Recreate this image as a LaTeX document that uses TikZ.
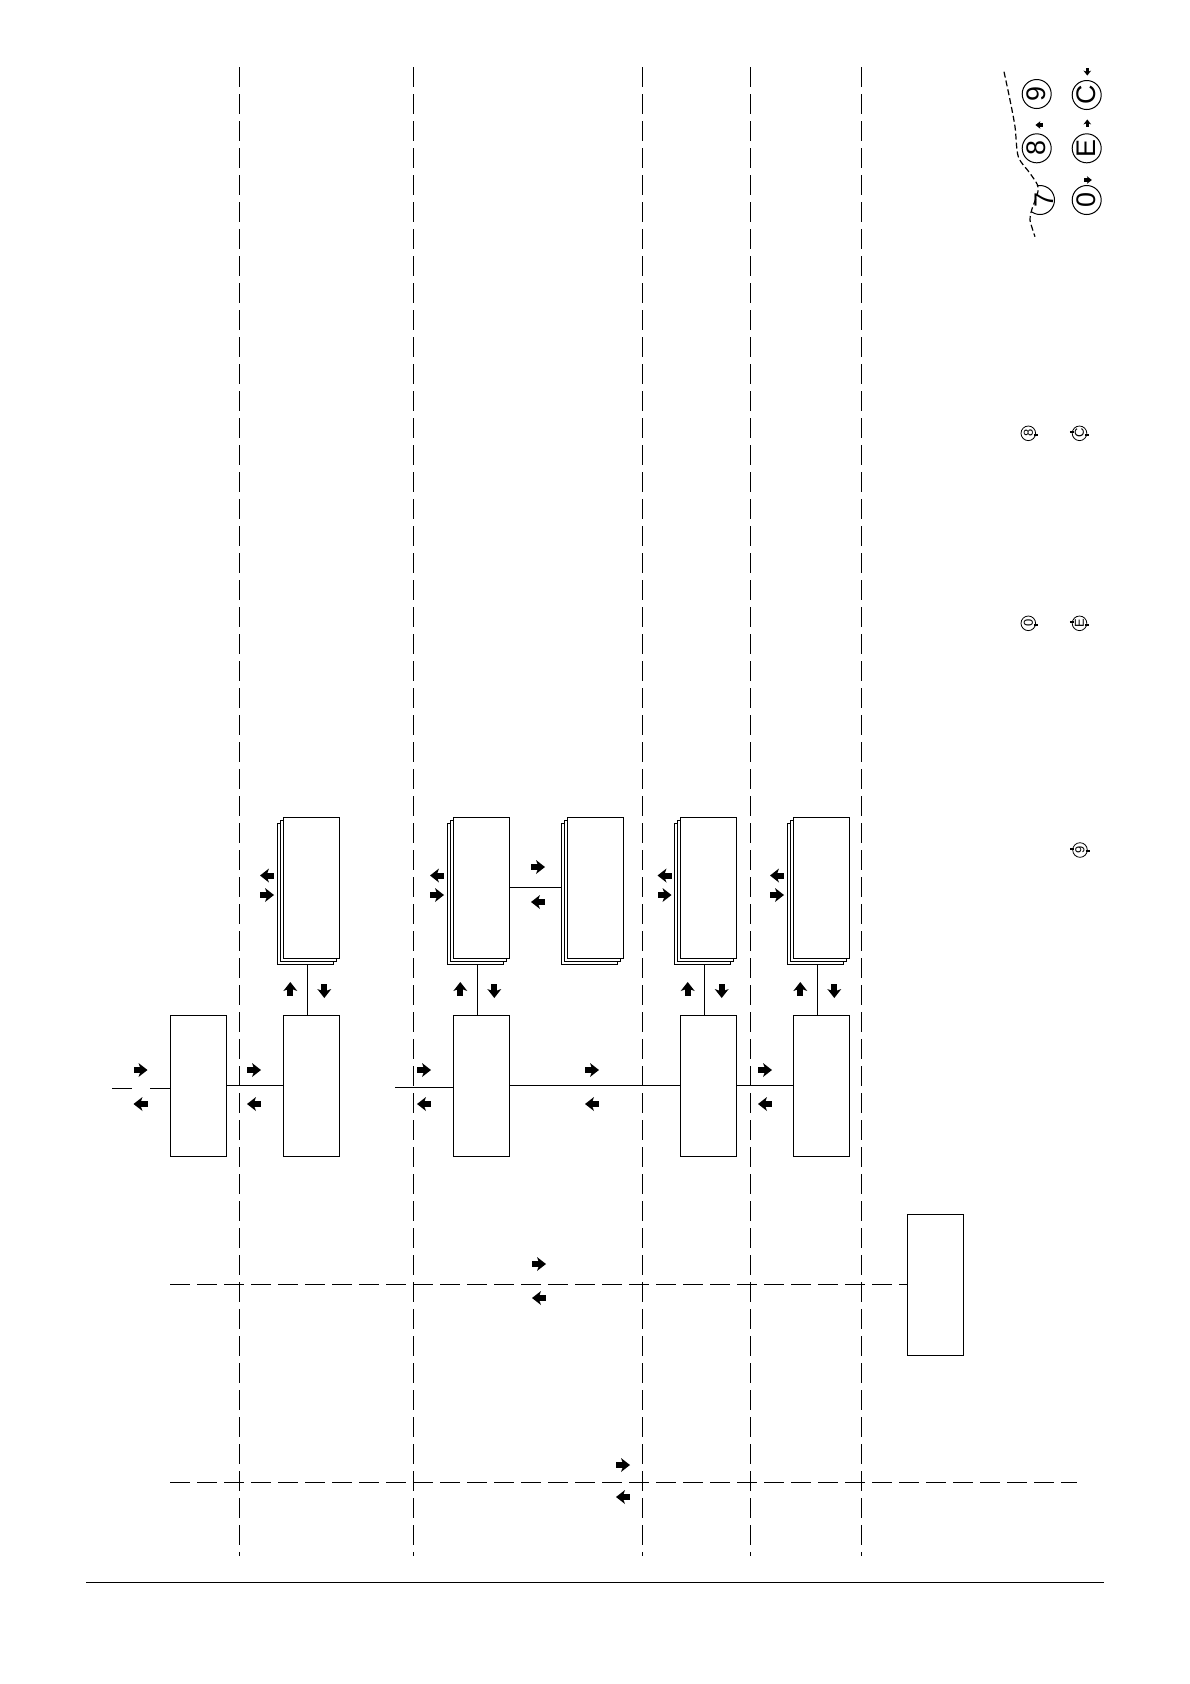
\documentclass[tikz,border=0pt]{standalone}
\usepackage{fontspec}
\setmainfont{Liberation Sans}
\usetikzlibrary{shadows,positioning,calc}

\begin{document}
\begin{tikzpicture}[x=0.5bp, y=-0.5bp,
  unit/.style={draw, line width=0.5bp, fill=white, minimum width=28bp, minimum height=70.5bp, inner sep=0pt, outer sep=0pt},
  stack/.style={unit,
    general shadow={shadow xshift=-3bp, shadow yshift=-3bp, draw, fill=white, line width=0.5bp},
    general shadow={shadow xshift=-1.5bp, shadow yshift=-1.5bp, draw, fill=white, line width=0.5bp}},
  link/.style={line width=0.5bp},
  bus/.style={line width=0.5bp, dash pattern=on 10bp off 3.5bp},
  key/.style={circle, draw, line width=0.5bp, minimum size=14.5bp, inner sep=0pt, rotate=90, font=\fontsize{13.5}{13.5}\selectfont},
  minikey/.style={circle, draw, line width=0.4bp, minimum size=7.3bp, inner sep=0pt, rotate=90, font=\fontsize{6.5}{6.5}\selectfont},
  tick/.style={line width=1bp},
  arw/.pic={
    \fill (-7,-3) rectangle (1,3);
    \fill (-2,-7) -- (7,0) -- (-2,7) -- (0.5,0) -- cycle;
  }
]
\useasboundingbox (0,0) rectangle (1190,1684);

% separators
\foreach \x in {239.3,413.5,642.3,750.5,861.5}
  \draw[bus] (\x,67) -- (\x,1556);
\draw[line width=0.5bp] (86,1582) -- (1104,1582);

% lower row
\node[unit] (boxa) at (198.3,1085.8) {};
\node[unit] (boxb) at (311.3,1085.8) {};
\node[unit] (boxc) at (481.3,1085.8) {};
\node[unit] (boxd) at (708.7,1085.8) {};
\node[unit] (boxe) at (821.3,1085.8) {};
\node[unit] (boxf) at (935.3,1284.8) {};

% upper row
\node[stack] (sta) at (311.3,887.8) {};
\node[stack] (stb) at (481.3,887.8) {};
\node[stack] (stc) at (595.0,887.8) {};
\node[stack] (std) at (708.7,887.8) {};
\node[stack] (ste) at (821.3,887.8) {};

\coordinate (ina) at (112,1088);
\coordinate (inc) at (395,1087);
\draw[link, dash pattern=on 10bp off 9bp] (ina) -- (ina -| boxa.west);
\draw[link] (boxa.east) -- (boxb.west);
\draw[link] (inc) -- (inc -| boxc.west);
\draw[link] (boxc.east) -- (boxd.west);
\draw[link] (boxd.east) -- (boxe.west);
\draw[link] (stb.east) -- ([xshift=-3bp]stc.west);
\foreach \s/\b in {sta/boxb,stb/boxc,std/boxd,ste/boxe}{
  \path (\s.south) ++(0,6) coordinate (\s-end);
  \draw[link] ([xshift=-2bp]\b.north) -- ([xshift=-2bp]\b.north |- \s-end);
}

\coordinate (busa) at (170,1284.3);
\coordinate (busb) at (170,1482.3);
\coordinate (busc) at (1077,1482.3);
\draw[bus] (busa) -- (busa -| boxf.west);
\draw[bus] (busb) -- (busc);

% flow arrows
\foreach \x in {140.5,254,424,592,765}{
  \pic at (\x,1070) {arw};
  \pic[rotate=180] at (\x,1104) {arw};
}
\foreach \x in {267,437,664.5,777}{
  \pic[rotate=180] at (\x,875.5) {arw};
  \pic at (\x,895) {arw};
}
\pic at (538,867) {arw};
\pic[rotate=180] at (538,902) {arw};
\foreach \x in {311.3,481.3,708.7,821.3}{
  \pic[rotate=90] at (\x-21,989) {arw};
  \pic[rotate=-90] at (\x+13,991) {arw};
}
\pic at (539,1264) {arw};
\pic[rotate=180] at (539,1298) {arw};
\pic at (623,1465) {arw};
\pic[rotate=180] at (623,1497) {arw};

% keypad
\node[key] (k9) at (1036.7,94) {9};
\node[key] (k8) at (1036.7,148.3) {8};
\node[key] (kc) at (1086.7,95) {C};
\node[key] (ke) at (1086.7,148.3) {E};
\node[key] (k0) at (1086.7,200) {0};
\begin{scope}
  \clip (1004,60) -- (1004,71.7) -- (1010,100) -- (1015,126.7) -- (1018.3,156.7) -- (1030,173.3)
    -- (1038.3,188.3) -- (1031.7,210) -- (1030,220) -- (1035,236.7) -- (1035,260) -- (1070,260) -- (1070,60) -- cycle;
  \node[key] (k7) at (1040,200) {};
\end{scope}
\node[rotate=90, inner sep=0pt, font=\fontsize{13.5}{13.5}\selectfont] (t7) at (1044,200) {7};
\draw[line width=0.6bp, dash pattern=on 3bp off 1.5bp] plot[smooth] coordinates
  {(1004,71.7) (1010,100) (1015,126.7) (1018.3,156.7) (1030,173.3) (1038.3,188.3) (1031.7,210) (1030,220) (1035,236.7)};
\pic[scale=0.55, rotate=-90] at (1087.3,71.7) {arw};
\pic[scale=0.55, rotate=180] at (1039.3,125) {arw};
\pic[scale=0.55, rotate=90] at (1087.3,123.3) {arw};
\pic[scale=0.55] at (1088,180) {arw};

% small keys
\node[minikey] (m8) at (1028.3,433.3) {8};
\node[minikey] (mc) at (1079.5,433.3) {C};
\node[minikey] (m0) at (1028.3,623.3) {0};
\node[minikey] (me) at (1079.5,623.3) {E};
\node[minikey] (m9) at (1080,850) {9};
\foreach \m in {m8,mc,m0,me,m9}
  \draw[tick] ([xshift=-1bp,yshift=-0.6bp]\m.south) -- ([xshift=1bp,yshift=-0.6bp]\m.south);
\foreach \m in {mc,me,m9}
  \draw[tick] ([xshift=-1bp,yshift=0.6bp]\m.north) -- ([xshift=1bp,yshift=0.6bp]\m.north);
\end{tikzpicture}
\end{document}
